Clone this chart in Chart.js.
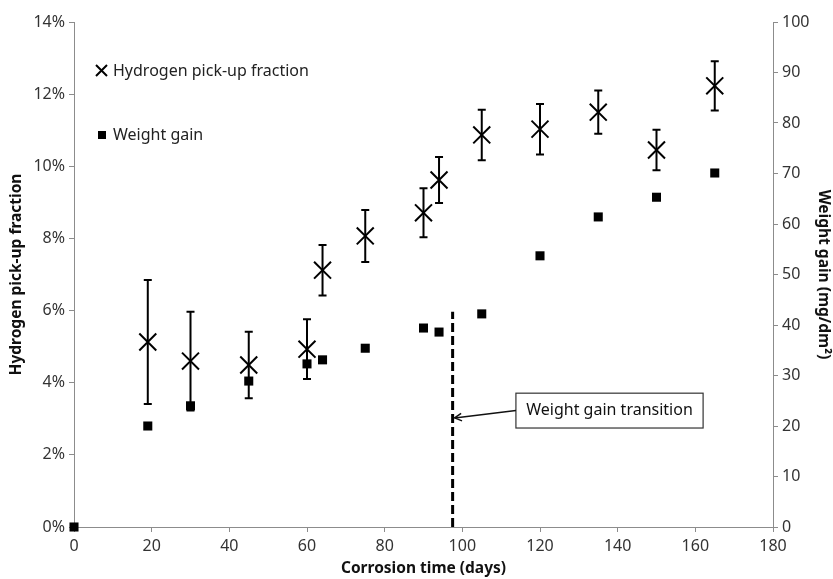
<!DOCTYPE html>
<html>
<head>
<meta charset="utf-8">
<script src="https://cdn.jsdelivr.net/npm/chart.js@4/dist/chart.umd.min.js"></script>
<style>
  html, body { margin: 0; padding: 0; background: #fff; }
  #wrap { width: 833px; height: 579px; position: relative; }
</style>
</head>
<body>
<div id="wrap"><canvas id="chart"></canvas></div>
<script>
// Corrosion time (days)
const hDays = [19, 30, 45, 60, 64, 75, 90, 94, 105, 120, 135, 150, 165];
// Hydrogen pick-up fraction (%)
const hFraction = [5.13, 4.6, 4.49, 4.93, 7.12, 8.07, 8.71, 9.62, 10.87, 11.03, 11.5, 10.45, 12.23];
// half width of error bars (%)
const hError = [1.72, 1.37, 0.92, 0.83, 0.7, 0.72, 0.68, 0.64, 0.7, 0.7, 0.6, 0.56, 0.68];

const wDays = [0, 19, 30, 45, 60, 64, 75, 90, 94, 105, 120, 135, 150, 165];
// Weight gain (mg/dm2)
const wGain = [0, 20.0, 24.0, 28.9, 32.3, 33.1, 35.4, 39.4, 38.6, 42.2, 53.7, 61.4, 65.3, 70.1];

// transition line (days, weight gain range)
const transDay = 97.5;
const transTop = 42.6;
const transLabel = "Weight gain transition";
// label box in data units (days, weight gain)
const boxX = [113.8, 162];
const boxY = [26.5, 19.6];
const arrowY = 21.6;

const legendItems = ["Hydrogen pick-up fraction", "Weight gain"];

const FONT = "'Noto Sans', 'Open Sans', sans-serif";

const errorBars = {
  id: "errorBars",
  afterDatasetsDraw(chart) {
    const ctx = chart.ctx;
    const xs = chart.scales.x, ys = chart.scales.y;
    ctx.save();
    ctx.strokeStyle = "#000";
    ctx.lineWidth = 2;
    hDays.forEach((d, i) => {
      const x = xs.getPixelForValue(d);
      const y1 = ys.getPixelForValue(hFraction[i] + hError[i]);
      const y2 = ys.getPixelForValue(hFraction[i] - hError[i]);
      ctx.beginPath();
      ctx.moveTo(x, y1); ctx.lineTo(x, y2);
      ctx.moveTo(x - 4, y1); ctx.lineTo(x + 4, y1);
      ctx.moveTo(x - 4, y2); ctx.lineTo(x + 4, y2);
      ctx.stroke();
    });
    ctx.restore();
  }
};

const extras = {
  id: "extras",
  afterDraw(chart) {
    const ctx = chart.ctx;
    const xs = chart.scales.x, yr = chart.scales.y1;
    ctx.save();
    // annotation box
    const bx1 = xs.getPixelForValue(boxX[0]), bx2 = xs.getPixelForValue(boxX[1]);
    const by1 = yr.getPixelForValue(boxY[0]), by2 = yr.getPixelForValue(boxY[1]);
    ctx.fillStyle = "#fff";
    ctx.fillRect(bx1, by1, bx2 - bx1, by2 - by1);
    ctx.strokeStyle = "#333";
    ctx.lineWidth = 1.2;
    ctx.strokeRect(bx1, by1, bx2 - bx1, by2 - by1);
    ctx.fillStyle = "#111";
    ctx.font = "16px " + FONT;
    ctx.textAlign = "center";
    ctx.textBaseline = "middle";
    ctx.fillText(transLabel, (bx1 + bx2) / 2, (by1 + by2) / 2);
    // arrow
    const ax = xs.getPixelForValue(transDay) + 2;
    const ay = yr.getPixelForValue(arrowY);
    const sy = (by1 + by2) / 2;
    ctx.strokeStyle = "#111";
    ctx.lineWidth = 1.5;
    ctx.beginPath();
    ctx.moveTo(bx1, sy); ctx.lineTo(ax, ay);
    ctx.stroke();
    const ang = Math.atan2(ay - sy, ax - bx1);
    ctx.beginPath();
    ctx.moveTo(ax - 8 * Math.cos(ang - 0.5), ay - 8 * Math.sin(ang - 0.5));
    ctx.lineTo(ax, ay);
    ctx.lineTo(ax - 8 * Math.cos(ang + 0.5), ay - 8 * Math.sin(ang + 0.5));
    ctx.stroke();

    // legend
    const lx = 101, ly1 = 71, ly2 = 135;
    ctx.lineWidth = 2;
    ctx.strokeStyle = "#000";
    ctx.beginPath();
    ctx.moveTo(lx - 5, ly1 - 6); ctx.lineTo(lx + 6, ly1 + 5);
    ctx.moveTo(lx + 6, ly1 - 6); ctx.lineTo(lx - 5, ly1 + 5);
    ctx.stroke();
    ctx.fillStyle = "#000";
    ctx.fillRect(lx - 3, ly2 - 4, 8, 8);
    ctx.fillStyle = "#222";
    ctx.textAlign = "left";
    ctx.fillText(legendItems[0], lx + 12, ly1);
    ctx.fillText(legendItems[1], lx + 12, ly2);
    ctx.restore();
  }
};

const axisColor = "#8c8c8c";
const tickFont = { family: FONT, size: 16 };
const titleFont = { family: FONT, size: 15.5, weight: "bold" };

new Chart(document.getElementById("chart"), {
  type: "scatter",
  data: {
    datasets: [
      {
        label: legendItems[0],
        data: hDays.map((d, i) => ({ x: d, y: hFraction[i] })),
        yAxisID: "y",
        pointStyle: "crossRot",
        pointRadius: 12,
        borderColor: "#000",
        borderWidth: 2,
        backgroundColor: "#000",
        clip: false
      },
      {
        label: legendItems[1],
        data: wDays.map((d, i) => ({ x: d, y: wGain[i] })),
        yAxisID: "y1",
        pointStyle: "rect",
        pointRadius: 6.4,
        borderWidth: 0,
        backgroundColor: "#000",
        borderColor: "#000",
        clip: false
      },
      {
        label: "transition",
        data: [{ x: transDay, y: 0 }, { x: transDay, y: transTop }],
        yAxisID: "y1",
        showLine: true,
        pointRadius: 0,
        borderColor: "#000",
        borderWidth: 3,
        borderDash: [9, 4]
      }
    ]
  },
  options: {
    responsive: true,
    maintainAspectRatio: false,
    animation: false,
    layout: { padding: { top: 22, right: 0, left: 0, bottom: 0 } },
    plugins: {
      legend: { display: false },
      tooltip: { enabled: false }
    },
    scales: {
      x: {
        type: "linear",
        min: 0, max: 180,
        ticks: { stepSize: 20, color: "#333", font: tickFont, padding: 5, maxRotation: 0 },
        grid: { drawOnChartArea: false, color: axisColor, tickLength: 5 },
        border: { color: axisColor },
        title: { display: true, text: "Corrosion time (days)", color: "#111", font: titleFont, padding: { top: 0, bottom: 1 } },
        afterFit: s => { s.height = 52; }
      },
      y: {
        position: "left",
        min: 0, max: 14,
        ticks: { stepSize: 2, color: "#333", font: tickFont, padding: 4, callback: v => v + "%" },
        grid: { drawOnChartArea: false, color: axisColor, tickLength: 5 },
        border: { color: axisColor },
        title: { display: true, text: "Hydrogen pick-up fraction", color: "#111", font: titleFont, padding: { top: 7, bottom: 0 } },
        afterFit: s => { s.width = 74; }
      },
      y1: {
        position: "right",
        min: 0, max: 100,
        ticks: { stepSize: 10, color: "#333", font: tickFont, padding: 4 },
        grid: { drawOnChartArea: false, color: axisColor, tickLength: 5 },
        border: { color: axisColor },
        title: { display: true, text: "Weight gain (mg/dm²)", color: "#111", font: titleFont, padding: 0 },
        afterFit: s => { s.width = 60; }
      }
    }
  },
  plugins: [errorBars, extras]
});
</script>
</body>
</html>
